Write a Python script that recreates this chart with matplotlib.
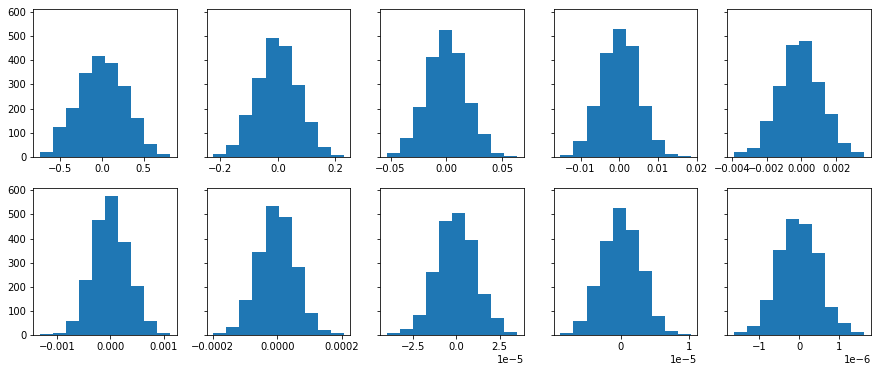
import numpy as np
import matplotlib
matplotlib.use("Agg")
import matplotlib.pyplot as plt

# data range (min, max) of each panel
ranges = [
    (-0.739, 0.815),
    (-0.224, 0.229),
    (-0.0533, 0.0637),
    (-0.0152, 0.0185),
    (-0.00387, 0.00362),
    (-0.001317, 0.001124),
    (-0.000198, 0.000205),
    (-3.99e-5, 3.51e-5),
    (-0.884e-5, 1.024e-5),
    (-1.628e-6, 1.62e-6),
]

# counts per bin (10 bins each)
counts = [
    [19, 124, 202, 346, 416, 387, 293, 162, 54, 12],
    [12, 49, 172, 327, 491, 458, 299, 143, 41, 8],
    [16, 79, 205, 413, 524, 430, 225, 94, 16, 4],
    [8, 65, 209, 430, 528, 458, 213, 70, 12, 4],
    [20, 37, 151, 295, 462, 479, 311, 180, 57, 20],
    [5, 10, 58, 230, 475, 577, 385, 205, 58, 10],
    [10, 34, 148, 344, 535, 490, 283, 93, 24, 10],
    [8, 27, 82, 261, 473, 506, 396, 171, 72, 14],
    [10, 61, 203, 391, 526, 435, 264, 80, 16, 5],
    [14, 38, 148, 352, 482, 462, 340, 116, 50, 14],
]

fig, axes = plt.subplots(2, 5, figsize=(877/72, 372/72), dpi=72, sharey=True)
plt.subplots_adjust(left=0.038, right=0.993, top=0.9745, bottom=0.0986,
                    wspace=0.21, hspace=0.208)

for ax, (lo, hi), c in zip(axes.ravel(), ranges, counts):
    edges = np.linspace(lo, hi, 11)
    ax.hist(edges[:-1], bins=edges, weights=c)

# top-right panel ticks every 0.002 like the original
axes[0, 4].set_xticks([-0.004, -0.002, 0.0, 0.002])

axes[0, 0].set_ylim(0, 610)
axes[0, 0].set_yticks([0, 100, 200, 300, 400, 500, 600])

plt.savefig("out.png", dpi=72)
